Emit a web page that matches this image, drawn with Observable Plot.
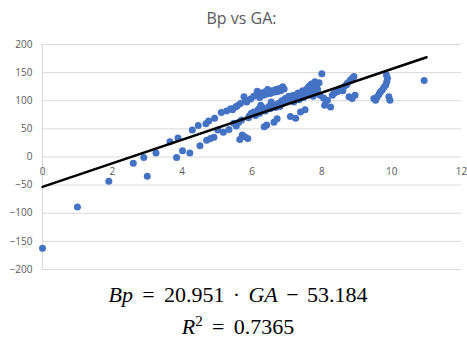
<!DOCTYPE html>
<html>
<head>
<meta charset="utf-8">
<script src="https://cdn.jsdelivr.net/npm/d3@7"></script>
<script src="https://cdn.jsdelivr.net/npm/@observablehq/plot@0.6"></script>
<style>
  html, body { margin: 0; padding: 0; background: #fff; }
  body { position: relative; width: 467px; height: 338px; overflow: hidden; }
  #title { position: absolute; left: 0; top: 0; width: 467px; height: 30px; line-height: 36px;
           text-align: center; font-family: "Open Sans", sans-serif; font-size: 16px; color: #595959;
           padding-left: 16px; box-sizing: border-box; }
  #chart { position: absolute; left: 0; top: 30px; }
  .eq { position: absolute; left: 0; width: 467px; text-align: center; padding-left: 9px; box-sizing: border-box;
        font-family: "Liberation Serif", "DejaVu Serif", serif; font-size: 22px; line-height: 22px; color: #000; }
  .op { margin: 0 0.42em; }
  .mop { margin: 0 0.38em; }
</style>
</head>
<body>
<div id="title">Bp vs GA:</div>
<div id="chart"></div>
<div class="eq" id="eq1" style="top:284px"></div>
<div class="eq" id="eq2" style="top:316px"></div>
<script>
// Data
const GA = [
  0.0, 1.0, 1.9, 2.6, 2.9, 3.0, 3.25, 3.65, 3.84, 3.88, 4.01, 4.22, 4.29, 4.46, 4.51, 4.68, 4.70, 4.76, 4.81, 4.91, 4.93,
  5.02, 5.12, 5.18, 5.27, 5.34, 5.39, 5.44, 5.48, 5.53, 5.55, 5.58, 5.62, 5.65, 5.67, 5.70, 5.72, 5.77, 5.79, 5.82, 5.85, 5.88, 5.90, 5.92, 5.96, 5.98,
  6.05, 6.12, 6.18, 6.22, 6.28, 6.33, 6.38, 6.42, 6.48, 6.52, 6.58, 6.62, 6.68, 6.72, 6.78, 6.82, 6.88, 6.92, 6.15, 6.45,
  6.05, 6.10, 6.18, 6.22, 6.30, 6.35, 6.38, 6.42, 6.48, 6.52, 6.60, 6.63, 6.68, 6.72, 6.75, 6.80, 6.85, 6.90, 6.95, 6.25, 6.55,
  7.02, 7.05, 7.10, 7.12, 7.18, 7.20, 7.25, 7.28, 7.32, 7.35, 7.39, 7.42, 7.45, 7.48, 7.52, 7.55, 7.58, 7.60, 7.63, 7.66, 7.70, 7.72, 7.75, 7.78, 7.80, 7.82, 7.85, 7.88, 7.92, 7.95, 8.00,
  8.05, 8.08, 8.12, 8.16, 8.25, 8.30, 8.35, 8.44, 8.50, 8.54, 8.60, 8.63, 8.70, 8.73, 8.78, 8.80, 8.83, 8.87, 8.87, 8.92, 8.95,
  9.49, 9.54, 9.59, 9.64, 9.68, 9.73, 9.78, 9.83, 9.86, 9.88, 9.85, 9.92, 9.95, 10.93
];
const BP = [
  -162, -89, -43, -11, -1, -34, 7, 27, -1, 34, 11, 7, 48, 56, 20, 59, 30, 64, 33, 35, 69,
  48, 79, 44, 82, 49, 86, 84, 60, 89, 55, 91, 62, 31, 95, 66, 39, 107, 36, 101, 98, 33, 70, 73, 103, 78,
  108, 110, 112, 106, 114, 110, 116, 112, 117, 113, 118, 115, 120, 116, 122, 118, 125, 121, 117, 120,
  80, 74, 85, 78, 88, 54, 82, 57, 90, 86, 92, 62, 88, 68, 95, 90, 100, 96, 104, 92, 98,
  100, 108, 72, 103, 110, 98, 69, 106, 114, 102, 80, 110, 118, 106, 84, 114, 122, 110, 126, 116, 130, 120, 108, 125, 134, 114, 128, 120, 132, 110, 148,
  105, 92, 100, 101, 89, 110, 113, 116, 120, 122, 118, 125, 128, 131, 107, 135, 137, 104, 140, 143, 110,
  104, 101, 107, 112, 116, 119, 124, 128, 134, 140, 146, 107, 101, 136
];
// Trendline coefficients (from the reference equation)
const slope = 20.951;
const intercept = -53.184;
const r2 = 0.7365;
const trendX = [0, 11];
const xTicks = [0, 2, 4, 6, 8, 10, 12];
const yTicks = [-200, -150, -100, -50, 0, 50, 100, 150, 200];

const data = GA.map((g, i) => ({GA: g, Bp: BP[i]}));
const trend = trendX.map(x => ({x, y: slope * x + intercept}));

const chart = Plot.plot({
  width: 467,
  height: 245,
  marginTop: 14,
  marginBottom: 6,
  marginLeft: 42,
  marginRight: 6,
  style: {fontFamily: "Open Sans, sans-serif", fontSize: "10px", color: "#595959", background: "white"},
  x: {domain: [0, 12], axis: null},
  y: {domain: [-200, 200]},
  marks: [
    Plot.ruleY(yTicks, {stroke: "#d9d9d9", strokeWidth: 1}),
    Plot.ruleX([0], {stroke: "#d9d9d9", strokeWidth: 1}),
    Plot.axisY({ticks: yTicks, tickSize: 0, tickPadding: 10, label: null, fill: "#595959"}),
    Plot.text(xTicks, {x: d => d, y: () => 0, dy: 15, text: d => String(d), fill: "#595959"}),
    Plot.dot(data, {x: "GA", y: "Bp", r: 3.5, fill: "#4472C4"}),
    Plot.line(trend, {x: "x", y: "y", stroke: "black", strokeWidth: 2.5})
  ]
});
chart.style.display = "block";
document.getElementById("chart").appendChild(chart);

const sign = intercept < 0 ? "−" : "+";
document.getElementById("eq1").innerHTML =
  `<i>Bp</i><span class="op">=</span>${slope}<span class="mop">·</span><i>GA</i><span class="mop">${sign}</span>${Math.abs(intercept)}`;
document.getElementById("eq2").innerHTML =
  `<i>R</i><sup style="font-size:15px;vertical-align:8px;line-height:0">2</sup><span class="op">=</span>${r2}`;
</script>
</body>
</html>
